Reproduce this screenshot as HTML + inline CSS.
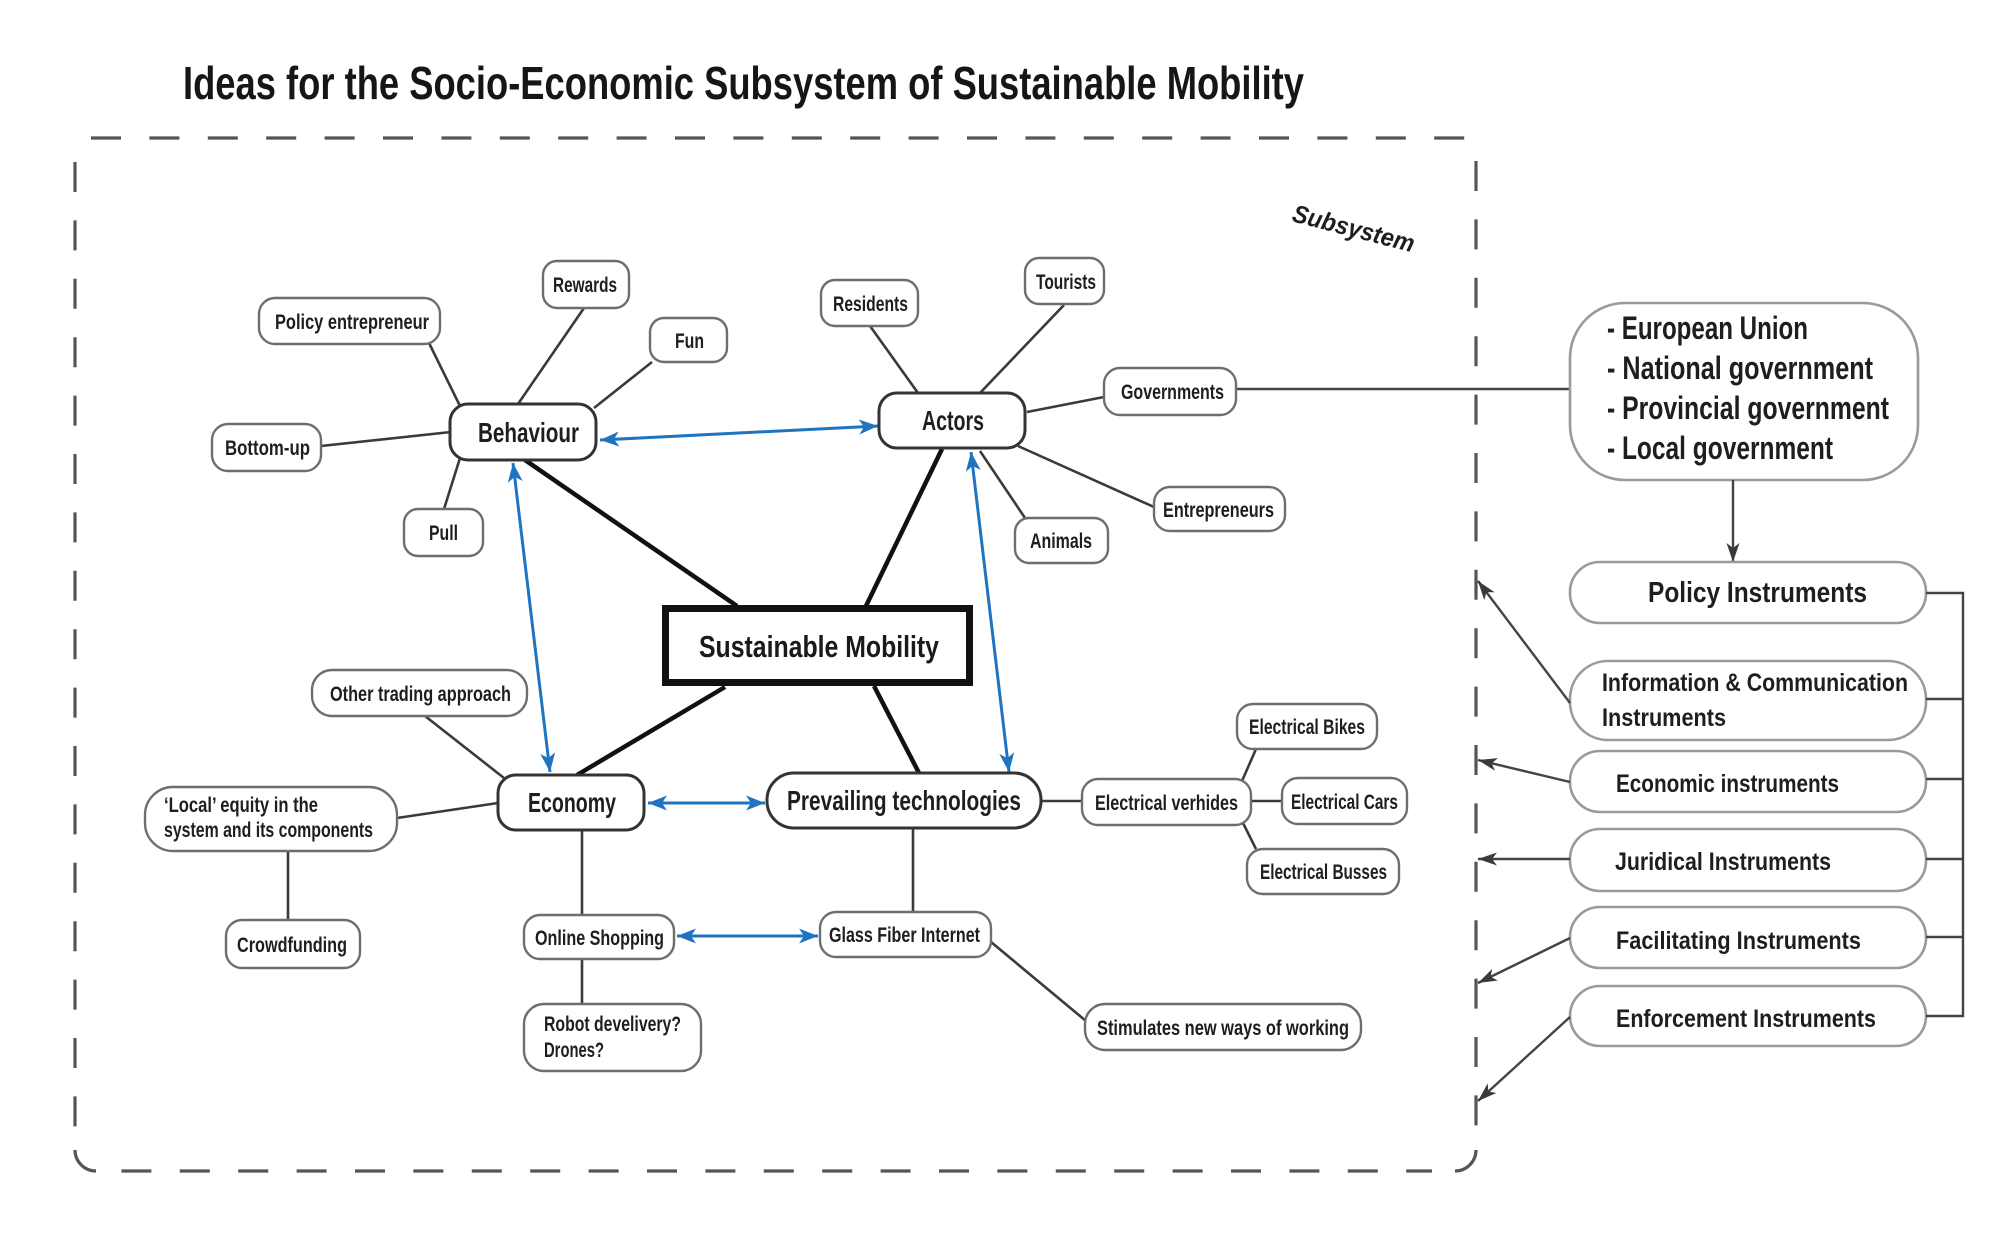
<!DOCTYPE html>
<html>
<head>
<meta charset="utf-8">
<style>
  html,body{margin:0;padding:0;background:#fff;}
  svg{display:block;}
  text{font-family:"Liberation Sans Narrow","Liberation Sans",sans-serif;font-weight:bold;fill:#1e1e1e;}
  .sb{fill:#fff;stroke:#6e6e6e;stroke-width:2.4;}
  .mb{fill:#fff;stroke:#333;stroke-width:3;}
  .rb{fill:#fff;stroke:#9a9a9a;stroke-width:2.6;}
  .tl{stroke:#3a3a3a;stroke-width:2.6;fill:none;}
  .bk{stroke:#111;stroke-width:4.5;fill:none;}
  .bl{stroke:#1f74c2;stroke-width:3;fill:none;}
  .gl{stroke:#444;stroke-width:2.4;fill:none;}
  .ds{stroke:#555;stroke-width:3.2;fill:none;stroke-dasharray:30 28.4;}
  .dc{stroke:#555;stroke-width:3.2;fill:none;}
</style>
</head>
<body>
<svg width="2000" height="1247" viewBox="0 0 2000 1247" xmlns="http://www.w3.org/2000/svg">
<defs>
  <marker id="bla" markerUnits="userSpaceOnUse" markerWidth="22" markerHeight="18" refX="19" refY="9" orient="auto-start-reverse">
    <path d="M0,1.5 L19,9 L0,16.5 L5,9 Z" fill="#1f74c2"/>
  </marker>
  <marker id="gra" markerUnits="userSpaceOnUse" markerWidth="22" markerHeight="18" refX="19" refY="9" orient="auto">
    <path d="M0,2.5 L19,9 L0,15.5 L5,9 Z" fill="#3a3a3a"/>
  </marker>
</defs>

<!-- Title -->
<text x="183" y="99" font-size="46" textLength="1121" lengthAdjust="spacingAndGlyphs" style="fill:#161616">Ideas for the Socio-Economic Subsystem of Sustainable Mobility</text>

<!-- Dashed subsystem boundary -->
<path class="ds" d="M91,138 H1470"/>
<path class="ds" d="M75,162 V1150"/>
<path class="ds" d="M1476,161 V1150"/>
<path class="ds" d="M96,1171 H1432" style="stroke-dashoffset:33"/>
<path class="dc" d="M75,1150 A21,21 0 0 0 96,1171"/>
<path class="dc" d="M1476,1150 A21,21 0 0 1 1455,1171"/>

<!-- Subsystem label -->
<text x="1291" y="221" font-size="25" font-style="italic" textLength="125" lengthAdjust="spacingAndGlyphs" transform="rotate(14.5 1291 221)">Subsystem</text>

<!-- Thick black connectors to Sustainable Mobility -->
<line class="bk" x1="525" y1="460" x2="737" y2="606"/>
<line class="bk" x1="942" y1="449" x2="866" y2="606"/>
<line class="bk" x1="577" y1="775" x2="725" y2="687"/>
<line class="bk" x1="919" y1="773" x2="874" y2="686"/>

<!-- Thin connectors -->
<line class="tl" x1="429" y1="343" x2="460" y2="406"/>
<line class="tl" x1="584" y1="308" x2="518" y2="404"/>
<line class="tl" x1="652" y1="362" x2="594" y2="408"/>
<line class="tl" x1="321" y1="446" x2="451" y2="432"/>
<line class="tl" x1="444" y1="509" x2="460" y2="458"/>
<line class="tl" x1="870" y1="326" x2="918" y2="393"/>
<line class="tl" x1="1064" y1="305" x2="980" y2="393"/>
<line class="tl" x1="1104" y1="397" x2="1027" y2="412"/>
<line class="tl" x1="1154" y1="507" x2="1018" y2="446"/>
<line class="tl" x1="1025" y1="518" x2="980" y2="451"/>
<line class="tl" x1="425" y1="716" x2="504" y2="778"/>
<line class="tl" x1="397" y1="818" x2="498" y2="803"/>
<line class="tl" x1="288" y1="851" x2="288" y2="920"/>
<line class="tl" x1="582" y1="830" x2="582" y2="915"/>
<line class="tl" x1="582" y1="959" x2="582" y2="1004"/>
<line class="tl" x1="913" y1="828" x2="913" y2="912"/>
<line class="tl" x1="1041" y1="801" x2="1082" y2="801"/>
<line class="tl" x1="1242" y1="781" x2="1256" y2="749"/>
<line class="tl" x1="1251" y1="801" x2="1282" y2="801"/>
<line class="tl" x1="1242" y1="821" x2="1256" y2="849"/>
<line class="tl" x1="991" y1="942" x2="1086" y2="1021"/>

<!-- Governments to government box -->
<line class="gl" x1="1236" y1="389" x2="1570" y2="389"/>

<!-- Blue double arrows -->
<line class="bl" x1="600" y1="440" x2="878" y2="426" marker-start="url(#bla)" marker-end="url(#bla)"/>
<line class="bl" x1="513" y1="463" x2="550" y2="772" marker-start="url(#bla)" marker-end="url(#bla)"/>
<line class="bl" x1="971" y1="452" x2="1009" y2="772" marker-start="url(#bla)" marker-end="url(#bla)"/>
<line class="bl" x1="648" y1="803" x2="765" y2="803" marker-start="url(#bla)" marker-end="url(#bla)"/>
<line class="bl" x1="677" y1="936" x2="818" y2="936" marker-start="url(#bla)" marker-end="url(#bla)"/>

<!-- Small nodes -->
<rect class="sb" x="259" y="298" width="181" height="46" rx="16"/>
<text x="275" y="329" font-size="21" textLength="154" lengthAdjust="spacingAndGlyphs">Policy entrepreneur</text>

<rect class="sb" x="543" y="261" width="86" height="47" rx="14"/>
<text x="553" y="292" font-size="21" textLength="64" lengthAdjust="spacingAndGlyphs">Rewards</text>

<rect class="sb" x="650" y="318" width="77" height="44" rx="14"/>
<text x="675" y="348" font-size="21" textLength="29" lengthAdjust="spacingAndGlyphs">Fun</text>

<rect class="sb" x="212" y="424" width="109" height="47" rx="16"/>
<text x="225" y="455" font-size="21" textLength="85" lengthAdjust="spacingAndGlyphs">Bottom-up</text>

<rect class="sb" x="404" y="509" width="79" height="47" rx="14"/>
<text x="429" y="540" font-size="21" textLength="29" lengthAdjust="spacingAndGlyphs">Pull</text>

<rect class="sb" x="821" y="280" width="97" height="46" rx="14"/>
<text x="833" y="311" font-size="21" textLength="75" lengthAdjust="spacingAndGlyphs">Residents</text>

<rect class="sb" x="1025" y="258" width="79" height="46" rx="14"/>
<text x="1036" y="289" font-size="21" textLength="60" lengthAdjust="spacingAndGlyphs">Tourists</text>

<rect class="sb" x="1104" y="368" width="132" height="47" rx="16"/>
<text x="1121" y="399" font-size="21" textLength="103" lengthAdjust="spacingAndGlyphs">Governments</text>

<rect class="sb" x="1154" y="487" width="131" height="44" rx="16"/>
<text x="1163" y="517" font-size="21" textLength="111" lengthAdjust="spacingAndGlyphs">Entrepreneurs</text>

<rect class="sb" x="1015" y="518" width="93" height="45" rx="14"/>
<text x="1030" y="548" font-size="21" textLength="62" lengthAdjust="spacingAndGlyphs">Animals</text>

<rect class="sb" x="312" y="670" width="215" height="46" rx="20"/>
<text x="330" y="701" font-size="21" textLength="181" lengthAdjust="spacingAndGlyphs">Other trading approach</text>

<rect class="sb" x="145" y="787" width="252" height="64" rx="28"/>
<text x="164" y="812" font-size="21" textLength="154" lengthAdjust="spacingAndGlyphs">‘Local’ equity in the</text>
<text x="164" y="837" font-size="21" textLength="209" lengthAdjust="spacingAndGlyphs">system and its components</text>

<rect class="sb" x="226" y="920" width="134" height="48" rx="16"/>
<text x="237" y="952" font-size="21" textLength="110" lengthAdjust="spacingAndGlyphs">Crowdfunding</text>

<rect class="sb" x="524" y="915" width="150" height="44" rx="16"/>
<text x="535" y="945" font-size="21" textLength="129" lengthAdjust="spacingAndGlyphs">Online Shopping</text>

<rect class="sb" x="524" y="1004" width="177" height="67" rx="20"/>
<text x="544" y="1031" font-size="21" textLength="137" lengthAdjust="spacingAndGlyphs">Robot develivery?</text>
<text x="544" y="1057" font-size="21" textLength="60" lengthAdjust="spacingAndGlyphs">Drones?</text>

<rect class="sb" x="1082" y="779" width="169" height="46" rx="16"/>
<text x="1095" y="810" font-size="21" textLength="143" lengthAdjust="spacingAndGlyphs">Electrical verhides</text>

<rect class="sb" x="1237" y="704" width="140" height="45" rx="16"/>
<text x="1249" y="734" font-size="21" textLength="116" lengthAdjust="spacingAndGlyphs">Electrical Bikes</text>

<rect class="sb" x="1282" y="778" width="125" height="46" rx="16"/>
<text x="1291" y="809" font-size="21" textLength="107" lengthAdjust="spacingAndGlyphs">Electrical Cars</text>

<rect class="sb" x="1247" y="849" width="152" height="45" rx="16"/>
<text x="1260" y="879" font-size="21" textLength="127" lengthAdjust="spacingAndGlyphs">Electrical Busses</text>

<rect class="sb" x="820" y="912" width="171" height="45" rx="16"/>
<text x="829" y="942" font-size="21" textLength="151" lengthAdjust="spacingAndGlyphs">Glass Fiber Internet</text>

<rect class="sb" x="1085" y="1004" width="276" height="46" rx="20"/>
<text x="1097" y="1035" font-size="21" textLength="252" lengthAdjust="spacingAndGlyphs">Stimulates new ways of working</text>

<!-- Main nodes -->
<rect class="mb" x="450" y="404" width="146" height="56" rx="18"/>
<text x="478" y="442" font-size="28" textLength="101" lengthAdjust="spacingAndGlyphs">Behaviour</text>

<rect class="mb" x="879" y="393" width="146" height="55" rx="18"/>
<text x="922" y="430" font-size="28" textLength="62" lengthAdjust="spacingAndGlyphs">Actors</text>

<rect class="mb" x="498" y="775" width="146" height="55" rx="18"/>
<text x="528" y="812" font-size="28" textLength="88" lengthAdjust="spacingAndGlyphs">Economy</text>

<rect class="mb" x="767" y="773" width="274" height="55" rx="27"/>
<text x="787" y="810" font-size="28" textLength="234" lengthAdjust="spacingAndGlyphs">Prevailing technologies</text>

<!-- Central node -->
<rect x="665.5" y="608.5" width="304" height="74" fill="#fff" stroke="#111" stroke-width="7"/>
<text x="699" y="657" font-size="31" textLength="240" lengthAdjust="spacingAndGlyphs" style="fill:#1a1a1a">Sustainable Mobility</text>

<!-- Right panel -->
<rect class="rb" x="1570" y="303" width="348" height="177" rx="55"/>
<text x="1607" y="339" font-size="32" textLength="201" lengthAdjust="spacingAndGlyphs">- European Union</text>
<text x="1607" y="379" font-size="32" textLength="266" lengthAdjust="spacingAndGlyphs">- National government</text>
<text x="1607" y="419" font-size="32" textLength="282" lengthAdjust="spacingAndGlyphs">- Provincial government</text>
<text x="1607" y="459" font-size="32" textLength="226" lengthAdjust="spacingAndGlyphs">- Local government</text>

<line class="gl" x1="1733" y1="480" x2="1733" y2="562" marker-end="url(#gra)"/>

<rect class="rb" x="1570" y="562" width="356" height="61" rx="30"/>
<text x="1648" y="602" font-size="29" textLength="219" lengthAdjust="spacingAndGlyphs">Policy Instruments</text>

<rect class="rb" x="1570" y="661" width="356" height="79" rx="38"/>
<text x="1602" y="691" font-size="25" textLength="306" lengthAdjust="spacingAndGlyphs">Information &amp; Communication</text>
<text x="1602" y="726" font-size="25" textLength="124" lengthAdjust="spacingAndGlyphs">Instruments</text>

<rect class="rb" x="1570" y="751" width="356" height="61" rx="30"/>
<text x="1616" y="792" font-size="25" textLength="223" lengthAdjust="spacingAndGlyphs">Economic instruments</text>

<rect class="rb" x="1570" y="829" width="356" height="62" rx="30"/>
<text x="1615" y="870" font-size="25" textLength="216" lengthAdjust="spacingAndGlyphs">Juridical Instruments</text>

<rect class="rb" x="1570" y="907" width="356" height="61" rx="30"/>
<text x="1616" y="949" font-size="25" textLength="245" lengthAdjust="spacingAndGlyphs">Facilitating Instruments</text>

<rect class="rb" x="1570" y="986" width="356" height="60" rx="30"/>
<text x="1616" y="1027" font-size="25" textLength="260" lengthAdjust="spacingAndGlyphs">Enforcement Instruments</text>

<!-- Bracket -->
<path class="gl" d="M1926,593 H1963 V1016 H1926 M1926,699 H1963 M1926,779 H1963 M1926,859 H1963 M1926,937 H1963"/>

<!-- Arrows into the subsystem boundary -->
<line class="gl" x1="1570" y1="703" x2="1478" y2="581" marker-end="url(#gra)"/>
<line class="gl" x1="1570" y1="782" x2="1478" y2="760" marker-end="url(#gra)"/>
<line class="gl" x1="1570" y1="859" x2="1478" y2="859" marker-end="url(#gra)"/>
<line class="gl" x1="1570" y1="938" x2="1478" y2="983" marker-end="url(#gra)"/>
<line class="gl" x1="1570" y1="1017" x2="1478" y2="1101" marker-end="url(#gra)"/>
</svg>
</body>
</html>
